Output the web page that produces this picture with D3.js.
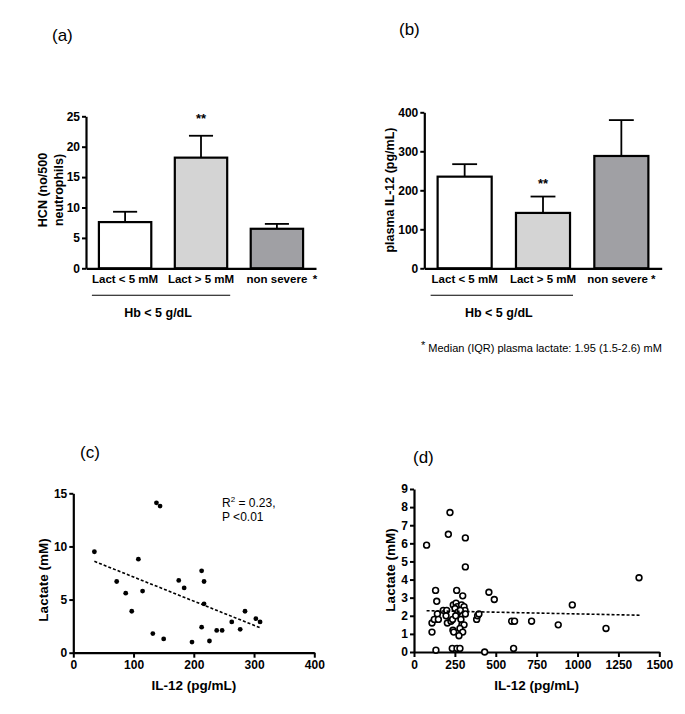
<!DOCTYPE html>
<html>
<head>
<meta charset="utf-8">
<script src="https://cdn.jsdelivr.net/npm/d3@7"></script>
<style>
  html, body { margin: 0; padding: 0; background: #fff; }
  svg { display: block; }
</style>
</head>
<body>
<svg id="chart" width="685" height="714"></svg>
<script>
// ---------------- DATA ----------------
const categoriesA = ["Lact < 5 mM", "Lact > 5 mM", "non severe"];
const categoriesB = ["Lact < 5 mM", "Lact > 5 mM", "non severe *"];
const hcnMean = [7.6, 18.2, 6.5];
const hcnUpper = [9.3, 21.8, 7.3];
const il12Mean = [235, 142, 288];
const il12Upper = [267, 184, 380];
const yTicksA = [0, 5, 10, 15, 20, 25];
const yTicksB = [0, 100, 200, 300, 400];

// (c) IL-12 vs lactate, severe anaemia
const il12C = [35, 72, 87, 97, 108, 115, 132, 138, 144, 150, 175, 184, 197, 213, 213, 217, 217, 226, 238, 247, 263, 277, 285, 303, 310];
const lactC = [9.5, 6.7, 5.6, 3.9, 8.8, 5.8, 1.8, 14.1, 13.8, 1.3, 6.8, 6.1, 1.0, 7.7, 2.4, 6.7, 4.6, 1.1, 2.1, 2.1, 2.9, 2.2, 3.9, 3.2, 2.9];
const trendCx = [35, 310];
const trendCy = [8.6, 2.35];
const xTicksC = [0, 100, 200, 300, 400];
const yTicksC = [0, 5, 10, 15];

// (d) IL-12 vs lactate, non severe
const il12D = [77, 220, 210, 314, 314, 132, 139, 110, 110, 124, 143, 149, 134,
  179, 200, 196, 204, 226, 236, 238, 243, 261, 240, 257, 265, 271, 277, 291, 298,
  291, 306, 312, 314, 287, 293, 306, 281, 298, 275, 251, 234, 263, 281, 268, 255, 283,
  383, 389, 397, 458, 491, 432, 597, 615, 609, 719, 882, 968, 1174, 1376];
const lactD = [5.9, 7.7, 6.5, 6.3, 4.7, 3.4, 2.8, 1.1, 1.6, 1.8, 2.1, 1.8, 0.1,
  2.3, 2.3, 2.0, 1.6, 1.7, 1.8, 1.2, 1.1, 3.4, 2.6, 2.7, 2.5, 2.3, 2.2, 2.1, 3.1,
  2.6, 2.5, 2.3, 2.1, 1.8, 1.5, 1.5, 1.3, 1.1, 0.9, 2.4, 0.2, 0.2, 0.2, 2.2, 2.0, 2.3,
  1.8, 2.0, 2.1, 3.3, 2.9, 0.0, 1.7, 1.7, 0.2, 1.7, 1.5, 2.6, 1.3, 4.1];
const trendDx = [77, 1380];
const trendDy = [2.28, 2.03];
const xTicksD = [0, 250, 500, 750, 1000, 1250, 1500];
const yTicksD = [0, 1, 2, 3, 4, 5, 6, 7, 8, 9];

// ---------------- DRAWING ----------------
const FONT = "'Liberation Sans', Arial, Helvetica, sans-serif";
const svg = d3.select("#chart").attr("font-family", FONT);
svg.append("rect").attr("width", 685).attr("height", 714).attr("fill", "#fff");

function styleAxis(g, fs) {
  g.select(".domain").attr("stroke", "#000").attr("stroke-width", 2.2);
  g.selectAll(".tick line").attr("stroke", "#000").attr("stroke-width", 2);
  g.selectAll(".tick text").attr("fill", "#000").attr("font-weight", "bold")
    .attr("font-size", fs || 12).attr("font-family", FONT);
}

function panelLabel(t, x, y) {
  svg.append("text").attr("x", x).attr("y", y).attr("font-size", 17)
    .attr("dominant-baseline", "central").text(t);
}

function yTitle(lines, x, y, fs) {
  lines.forEach((l, i) => {
    svg.append("text")
      .attr("transform", `translate(${x + i * 16},${y}) rotate(-90)`)
      .attr("text-anchor", "middle").attr("dominant-baseline", "central")
      .attr("font-weight", "bold").attr("font-size", fs || 12.5).text(l);
  });
}

function barPanel(cfg) {
  const x = d3.scaleBand().domain(cfg.cats).range([cfg.x0, cfg.x1])
    .paddingInner(0.31).paddingOuter(0.17);
  const y = d3.scaleLinear().domain(cfg.domain).range([cfg.y0, cfg.y1]);
  const fills = ["#ffffff", "#d4d4d4", "#a0a0a4"];
  const g = svg.append("g");
  const bw = x.bandwidth();
  // error bars (upper only)
  cfg.cats.forEach((c, i) => {
    const cx = x(c) + bw / 2;
    g.append("line").attr("x1", cx).attr("x2", cx)
      .attr("y1", y(cfg.mean[i])).attr("y2", y(cfg.upper[i]))
      .attr("stroke", "#000").attr("stroke-width", 1.8);
    g.append("line").attr("x1", cx - bw * 0.23).attr("x2", cx + bw * 0.23)
      .attr("y1", y(cfg.upper[i])).attr("y2", y(cfg.upper[i]))
      .attr("stroke", "#000").attr("stroke-width", 1.8);
  });
  g.selectAll("rect.bar").data(cfg.cats).enter().append("rect")
    .attr("x", d => x(d)).attr("width", bw)
    .attr("y", (d, i) => y(cfg.mean[i]))
    .attr("height", (d, i) => y(0) - y(cfg.mean[i]))
    .attr("fill", (d, i) => fills[i]).attr("stroke", "#000").attr("stroke-width", 2.2);
  // axes
  const ya = svg.append("g").attr("transform", `translate(${cfg.x0},0)`)
    .call(d3.axisLeft(y).tickValues(cfg.ticks).tickSize(4).tickSizeOuter(0).tickPadding(2));
  styleAxis(ya, 12);
  const xa = svg.append("g").attr("transform", `translate(0,${cfg.y0})`)
    .call(d3.axisBottom(x).tickSize(0).tickSizeOuter(0).tickPadding(7));
  styleAxis(xa, 11.5);
  // significance stars
  svg.append("text").attr("x", x(cfg.cats[1]) + bw / 2).attr("y", cfg.starY)
    .attr("text-anchor", "middle").attr("dominant-baseline", "central")
    .attr("font-size", 13).attr("font-weight", "bold").text("**");
  // Hb grouping line
  const lx0 = x(cfg.cats[0]) - 7, lx1 = x(cfg.cats[1]) + bw + 3;
  svg.append("line").attr("x1", lx0).attr("x2", lx1)
    .attr("y1", cfg.y0 + 27).attr("y2", cfg.y0 + 27).attr("stroke", "#000").attr("stroke-width", 1.1);
  svg.append("text").attr("x", (lx0 + lx1) / 2 - 3).attr("y", cfg.y0 + 45)
    .attr("text-anchor", "middle").attr("dominant-baseline", "central")
    .attr("font-weight", "bold").attr("font-size", 12.5).text("Hb < 5 g/dL");
  return { x, y, bw };
}

// (a)
panelLabel("(a)", 52, 35);
const pa = barPanel({ cats: categoriesA, mean: hcnMean, upper: hcnUpper, domain: [0, 25],
  ticks: yTicksA, x0: 86, x1: 316, y0: 268.3, y1: 116.3, starY: 118 });
svg.append("text").attr("x", pa.x("non severe") + pa.bw / 2 + 38).attr("y", 283)
  .attr("text-anchor", "middle").attr("font-size", 11.5).attr("font-weight", "bold").text("*");
yTitle(["HCN (no/500", "neutrophils)"], 43, 190, 12.5);

// (b)
panelLabel("(b)", 399, 29);
barPanel({ cats: categoriesB, mean: il12Mean, upper: il12Upper, domain: [0, 400],
  ticks: yTicksB, x0: 424.3, x1: 661.7, y0: 268.3, y1: 112.3, starY: 183 });
yTitle(["plasma IL-12 (pg/mL)"], 390, 190, 12.5);
const fn = svg.append("text").attr("x", 421).attr("y", 352).attr("font-size", 11);
fn.append("tspan").attr("font-size", 11).attr("dy", -3).text("*");
fn.append("tspan").attr("dy", 3).text(" Median (IQR) plasma lactate: 1.95 (1.5-2.6) mM");

// scatter panels
function scatterPanel(cfg) {
  const x = d3.scaleLinear().domain(cfg.xd).range([cfg.x0, cfg.x1]);
  const y = d3.scaleLinear().domain(cfg.yd).range([cfg.y0, cfg.y1]);
  const xa = svg.append("g").attr("transform", `translate(0,${cfg.y0})`)
    .call(d3.axisBottom(x).tickValues(cfg.xt).tickFormat(d3.format("d"))
      .tickSize(5).tickSizeOuter(0).tickPadding(3));
  styleAxis(xa, 12);
  const ya = svg.append("g").attr("transform", `translate(${cfg.x0},0)`)
    .call(d3.axisLeft(y).tickValues(cfg.yt).tickFormat(d3.format("d"))
      .tickSize(4).tickSizeOuter(0).tickPadding(2));
  styleAxis(ya, 12);
  const pts = cfg.xs.map((v, i) => [v, cfg.ys[i]]);
  svg.append("g").selectAll("circle").data(pts).enter().append("circle")
    .attr("cx", d => x(d[0])).attr("cy", d => y(d[1]))
    .attr("r", cfg.r)
    .attr("fill", cfg.open ? "#fff" : "#000")
    .attr("stroke", "#000").attr("stroke-width", cfg.open ? 1.6 : 0);
  const line = d3.line().x(d => x(d[0])).y(d => y(d[1]));
  svg.append("path").datum(cfg.tx.map((v, i) => [v, cfg.ty[i]]))
    .attr("d", line).attr("fill", "none").attr("stroke", "#000")
    .attr("stroke-width", 1.6).attr("stroke-dasharray", "3,2");
  svg.append("text").attr("x", (cfg.x0 + cfg.x1) / 2).attr("y", cfg.y0 + 33)
    .attr("text-anchor", "middle").attr("dominant-baseline", "central")
    .attr("font-weight", "bold").attr("font-size", 13.5).text("IL-12 (pg/mL)");
  return { x, y };
}

// (c)
panelLabel("(c)", 80, 452);
scatterPanel({ xd: [0, 400], yd: [0, 15], x0: 73.3, x1: 314.3, y0: 652.7, y1: 493.3,
  xt: xTicksC, yt: yTicksC, xs: il12C, ys: lactC, tx: trendCx, ty: trendCy, r: 2.4, open: false });
yTitle(["Lactate (mM)"], 43, 580, 13.5);
const r2 = svg.append("text").attr("x", 222).attr("y", 507).attr("font-size", 12);
r2.append("tspan").text("R");
r2.append("tspan").attr("font-size", 8).attr("dy", -5).text("2");
r2.append("tspan").attr("dy", 5).text(" = 0.23,");
svg.append("text").attr("x", 222).attr("y", 521).attr("font-size", 12).text("P <0.01");

// (d)
panelLabel("(d)", 413, 457);
scatterPanel({ xd: [0, 1500], yd: [0, 9], x0: 414, x1: 659.3, y0: 652, y1: 489,
  xt: xTicksD, yt: yTicksD, xs: il12D, ys: lactD, tx: trendDx, ty: trendDy, r: 2.9, open: true });
yTitle(["Lactate (mM)"], 390, 570, 13.5);
</script>
</body>
</html>
